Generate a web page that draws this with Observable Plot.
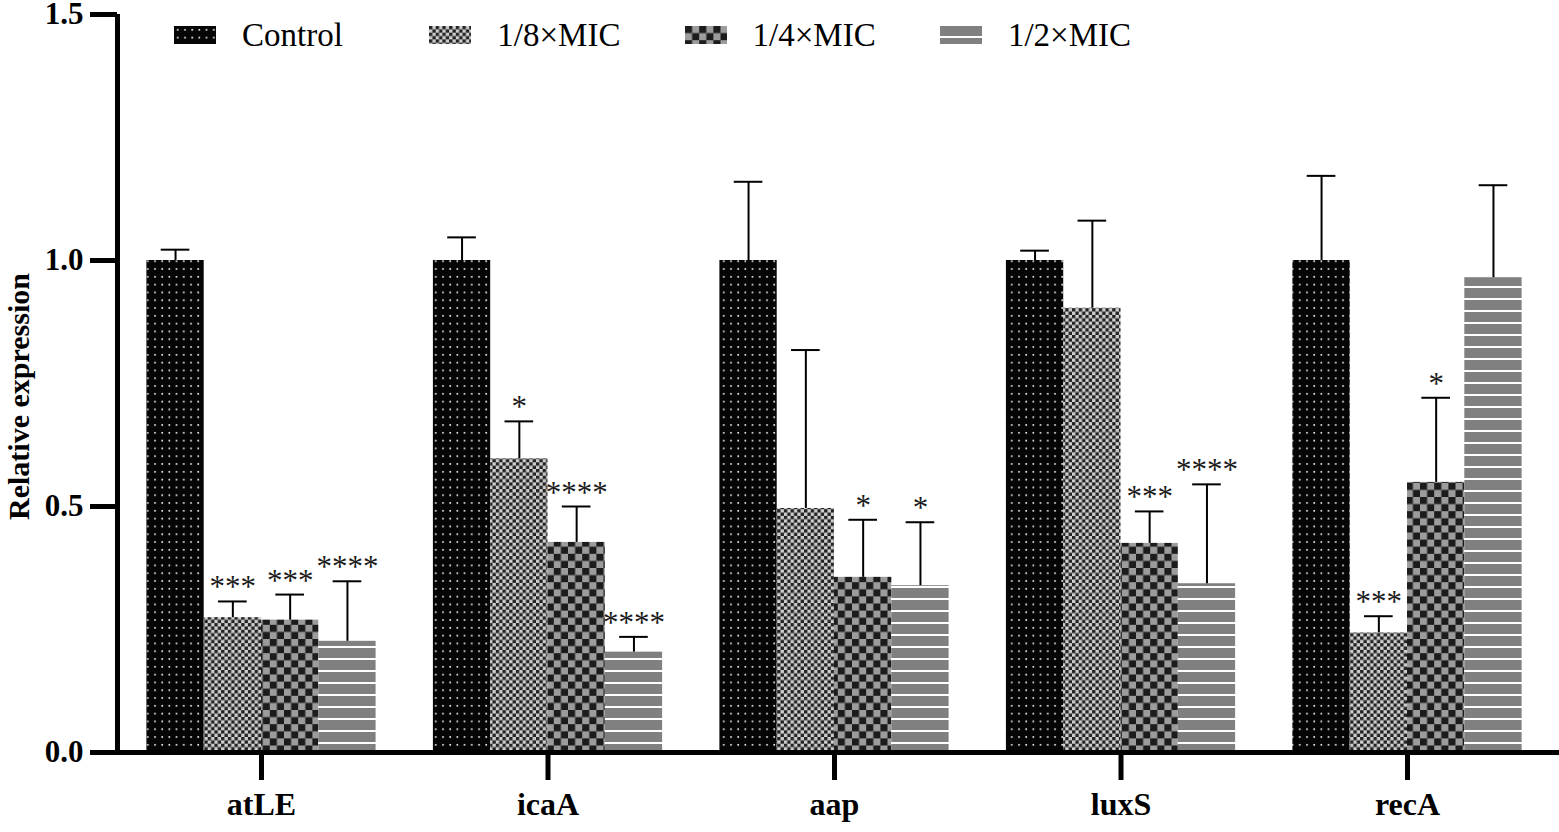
<!DOCTYPE html>
<html>
<head>
<meta charset="utf-8">
<script src="https://cdn.jsdelivr.net/npm/d3@7"></script>
<script src="https://cdn.jsdelivr.net/npm/@observablehq/plot@0.6"></script>
<style>
  html, body { margin: 0; padding: 0; background: #fff; }
  #wrap { position: relative; width: 1559px; height: 832px; overflow: hidden; }
  #legend { position: absolute; left: 174px; top: 17px; display: flex; }
  .item { display: flex; align-items: center; width: 255.3px; height: 36px;
          font-family: 'Liberation Serif', 'Times New Roman', serif; font-size: 33px; line-height: 36px; color: #000; }
  .item svg { margin-right: 26px; flex: none; }
  #chart text { font-family: 'Liberation Serif', 'Times New Roman', serif !important; }
  #chart g[aria-label$="tick"] path { stroke-width: 5px; stroke: #000; }
  #chart g[aria-label="x-axis tick label"] { font-size: 32px; }
  #chart g[aria-label="y-axis tick label"] { font-size: 31px; }
</style>
</head>
<body>
<div id="wrap">
  <div id="chart"></div>
  <div id="legend"></div>
</div>
<script>
// ---- data ----
const genes = ["atLE", "icaA", "aap", "luxS", "recA"];
const treatments = ["Control", "1/8×MIC", "1/4×MIC", "1/2×MIC"];

const controlMean = [1.000, 1.000, 1.000, 1.000, 1.000];
const mic8Mean    = [0.274, 0.597, 0.496, 0.903, 0.243];
const mic4Mean    = [0.269, 0.427, 0.356, 0.425, 0.549];
const mic2Mean    = [0.226, 0.204, 0.339, 0.343, 0.965];

const controlSD = [0.022, 0.047, 0.160, 0.020, 0.172];
const mic8SD    = [0.033, 0.076, 0.322, 0.178, 0.034];
const mic4SD    = [0.052, 0.073, 0.117, 0.065, 0.172];
const mic2SD    = [0.122, 0.031, 0.129, 0.202, 0.188];

const controlSig = ["", "", "", "", ""];
const mic8Sig    = ["***", "*", "", "", "***"];
const mic4Sig    = ["***", "****", "*", "***", "*"];
const mic2Sig    = ["****", "****", "*", "****", ""];

const yTicks = [0, 0.5, 1.0, 1.5];
const yLabel = "Relative expression";

const patternIds = ["pControl", "pMic8", "pMic4", "pMic2"];

// ---- table ----
const means = [controlMean, mic8Mean, mic4Mean, mic2Mean];
const sds = [controlSD, mic8SD, mic4SD, mic2SD];
const sigs = [controlSig, mic8Sig, mic4Sig, mic2Sig];
const groupWidth = 0.8, barWidth = groupWidth / treatments.length;
const data = [];
genes.forEach((g, i) => treatments.forEach((t, j) => data.push({
  gene: g, gi: i, treatment: t, ti: j,
  mean: means[j][i], sd: sds[j][i], upper: means[j][i] + sds[j][i], sig: sigs[j][i]
})));
const left = d => d.gi - groupWidth / 2 + d.ti * barWidth;
const center = d => left(d) + barWidth / 2;
const xDomain = [-0.5026, 4.5305];

const plot = Plot.plot({
  width: 1559, height: 832,
  marginLeft: 117, marginRight: 0, marginTop: 14, marginBottom: 80,
  style: { fontFamily: "'Liberation Serif', 'Times New Roman', serif", fontSize: "31px", fontWeight: "bold", color: "#000", background: "#fff", overflow: "visible" },
  x: { domain: xDomain, ticks: genes.map((_, i) => i), tickFormat: i => genes[i], tickSize: 28, tickPadding: 12, label: null },
  y: { domain: [0, 1.5], ticks: yTicks, tickFormat: d3.format(".1f"), tickSize: 27, tickPadding: 7, label: null },
  color: { domain: treatments, range: patternIds.map(p => `url(#${p})`) },
  marks: [
    Plot.rectY(data, { x1: left, x2: d => left(d) + barWidth, y1: 0, y2: "mean", fill: "treatment" }),
    Plot.ruleX(data, { x: center, y1: "mean", y2: "upper", stroke: "#000", strokeWidth: 2 }),
    Plot.ruleY(data, { y: "upper", x1: d => center(d) - 0.05, x2: d => center(d) + 0.05, stroke: "#000", strokeWidth: 2 }),
    Plot.text(data.filter(d => d.sig), { x: center, y: "upper", text: "sig", lineAnchor: "bottom", dy: -4, fontSize: 31, fontWeight: "normal", fill: "#1a1a1a" }),
    Plot.ruleY([0], { stroke: "#000", strokeWidth: 5 }),
    Plot.ruleX([xDomain[0]], { y1: 0, y2: 1.5, stroke: "#000", strokeWidth: 5 }),
    Plot.text([yLabel], { frameAnchor: "left", textAnchor: "middle", rotate: -90, dx: -98, dy: 13, fontSize: 30, fontWeight: "bold" })
  ]
});

const defsMarkup = `
  <pattern id="pControl" patternUnits="userSpaceOnUse" width="7.2" height="7.8">
    <rect width="7.2" height="7.8" fill="#050505"/>
    <rect x="3" y="3" width="1.6" height="1.6" fill="#fff"/>
  </pattern>
  <pattern id="pMic8" patternUnits="userSpaceOnUse" width="6.7" height="6.7">
    <rect width="6.7" height="6.7" fill="#cfcfcf"/>
    <rect width="3.35" height="3.35" fill="#222"/>
    <rect x="3.35" y="3.35" width="3.35" height="3.35" fill="#222"/>
  </pattern>
  <pattern id="pMic4" patternUnits="userSpaceOnUse" width="14.2" height="14.2">
    <rect width="14.2" height="14.2" fill="#9c9c9c"/>
    <rect width="7.1" height="7.1" fill="#1c1c1c"/>
    <rect x="7.1" y="7.1" width="7.1" height="7.1" fill="#1c1c1c"/>
  </pattern>
  <pattern id="pMic2" patternUnits="userSpaceOnUse" width="12" height="12">
    <rect width="12" height="12" fill="#fff"/>
    <rect width="12" height="10" fill="#808080"/>
  </pattern>`;
const defs = document.createElementNS("http://www.w3.org/2000/svg", "defs");
defs.innerHTML = defsMarkup;
plot.insertBefore(defs, plot.firstChild);
document.getElementById("chart").appendChild(plot);

// ---- legend ----
const legend = document.getElementById("legend");
treatments.forEach((t, j) => {
  const item = document.createElement("div");
  item.className = "item";
  item.innerHTML = `<svg width="42" height="18"><rect width="42" height="18" fill="url(#${patternIds[j]})"/></svg><span>${t}</span>`;
  legend.appendChild(item);
});
</script>
</body>
</html>
